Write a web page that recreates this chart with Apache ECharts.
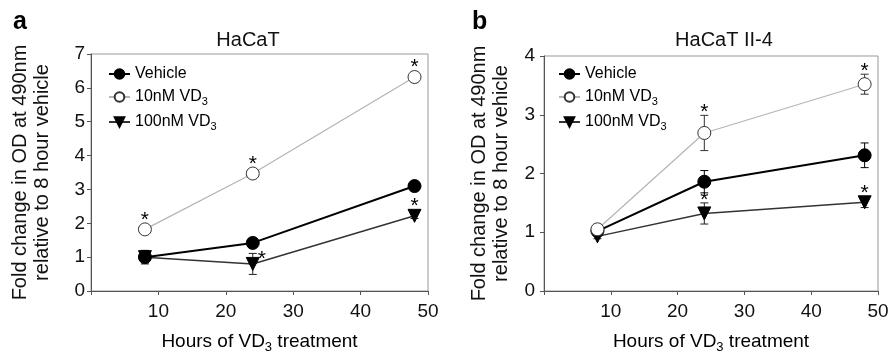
<!DOCTYPE html>
<html>
<head>
<meta charset="utf-8">
<script src="https://cdn.jsdelivr.net/npm/echarts@6/dist/echarts.min.js"></script>
<style>
html,body{margin:0;padding:0;background:#fff;}
#chart{width:888px;height:356px;}
</style>
</head>
<body>
<div id="chart"></div>
<script>
// ---------- data ----------
const hours = [8, 24, 48];
const seriesNames = ['Vehicle', '10nM VD3', '100nM VD3'];
const xTickMax = 50;
const aYMax = 7;
const bYMax = 4;

// Panel a: HaCaT
const aVehicle = [1.00, 1.42, 3.10];
const aVehicleErr = [0.20, 0.07, 0.07];
const a10nM = [1.82, 3.47, 6.32];
const a10nMErr = [0.08, 0.08, 0.08];
const a100nM = [1.00, 0.80, 2.22];
const a100nMErr = [0.12, 0.31, 0.08];
const a10nMSig = [1, 1, 1];
const a100nMSig = [0, 1, 1];

// Panel b: HaCaT II-4
const bVehicle = [1.02, 1.86, 2.31];
const bVehicleErr = [0.04, 0.19, 0.21];
const b10nM = [1.05, 2.69, 3.52];
const b10nMErr = [0.04, 0.30, 0.17];
const b100nM = [0.93, 1.32, 1.51];
const b100nMErr = [0.04, 0.18, 0.09];
const b10nMSig = [0, 1, 1];
const b100nMSig = [0, 1, 1];

// ---------- styles ----------
const FONT = 'Liberation Sans, Arial, sans-serif';
const styles = {
  'Vehicle':   {line: '#000', width: 2.0, symbol: 'circle', fill: '#000', border: '#000', rotate: 0, err: '#000'},
  '10nM VD3':  {line: '#b4b4b4', width: 1.2, symbol: 'circle', fill: '#fff', border: '#333', rotate: 0, err: '#333'},
  '100nM VD3': {line: '#333', width: 1.5, symbol: 'triangle', fill: '#000', border: '#000', rotate: 180, err: '#222'}
};
// manual nudge of one asterisk (style only)
const starNudge = {'a|100nM VD3|24': [9, 9]};

function pts(vals) { return hours.map((h, i) => [h, vals[i]]); }
function errPts(vals, errs) { return hours.map((h, i) => [h, vals[i], errs[i]]); }
function starPts(vals, errs, sig) {
  const out = [];
  hours.forEach((h, i) => { if (sig[i]) out.push([h, vals[i], errs[i]]); });
  return out;
}

function lineSeries(name, vals, gi) {
  const s = styles[name];
  return {
    type: 'line', name: name, xAxisIndex: gi, yAxisIndex: gi,
    data: pts(vals), symbol: s.symbol, symbolSize: 13, symbolRotate: s.rotate,
    showSymbol: true, z: 3,
    lineStyle: {color: s.line, width: s.width},
    itemStyle: {color: s.fill, borderColor: s.border, borderWidth: 1},
    emphasis: {disabled: true}, animation: false
  };
}
function errSeries(name, vals, errs, gi) {
  const s = styles[name];
  return {
    type: 'custom', name: name + ' error', xAxisIndex: gi, yAxisIndex: gi, z: 2,
    data: errPts(vals, errs), encode: {x: 0, y: 1}, animation: false, silent: true,
    renderItem: function (params, api) {
      const x = api.value(0), y = api.value(1), e = api.value(2);
      const t = api.coord([x, y + e]), b = api.coord([x, y - e]);
      const w = 4, st = {stroke: s.err, lineWidth: 1};
      return {type: 'group', children: [
        {type: 'line', shape: {x1: t[0], y1: t[1], x2: b[0], y2: b[1]}, style: st},
        {type: 'line', shape: {x1: t[0] - w, y1: t[1], x2: t[0] + w, y2: t[1]}, style: st},
        {type: 'line', shape: {x1: b[0] - w, y1: b[1], x2: b[0] + w, y2: b[1]}, style: st}
      ]};
    }
  };
}
function starSeries(panel, name, vals, errs, sig, gi) {
  return {
    type: 'custom', name: name + ' sig', xAxisIndex: gi, yAxisIndex: gi, z: 4,
    data: starPts(vals, errs, sig), encode: {x: 0, y: 1}, animation: false, silent: true,
    renderItem: function (params, api) {
      const x = api.value(0), y = api.value(1), e = api.value(2);
      const p = api.coord([x, y]), t = api.coord([x, y + e]);
      let sx = p[0], sy = Math.min(t[1], p[1] - 6.5) - 3;
      const n = starNudge[panel + '|' + name + '|' + x];
      if (n) { sx += n[0]; sy += n[1]; }
      return {type: 'text', x: sx, y: sy, style: {text: '*', font: '21px ' + FONT, fill: '#000', align: 'center', verticalAlign: 'middle'}};
    }
  };
}

const richText = {
  n: {fontSize: 16, fontFamily: FONT, color: '#000', lineHeight: 18},
  s: {fontSize: 11, fontFamily: FONT, color: '#000', lineHeight: 11, padding: [9, 0, 0, 0]}
};
function subFmt(name) {
  return name.replace(/VD3/, 'VD}{s|3}{n|').replace(/^/, '{n|') + '}';
}
const axisRich = {
  n: {fontSize: 19, fontFamily: FONT, color: '#000', lineHeight: 22},
  s: {fontSize: 13, fontFamily: FONT, color: '#000', lineHeight: 13, padding: [11, 0, 0, 0]}
};

function xAxis(gi) {
  return {
    type: 'value', gridIndex: gi, min: 0, max: xTickMax, interval: 10,
    name: '{n|Hours of VD}{s|3}{n| treatment}', nameLocation: 'middle', nameGap: 40,
    nameTextStyle: {rich: axisRich},
    axisLine: {show: true, lineStyle: {color: '#555', width: 1}},
    axisTick: {show: true, length: 4, lineStyle: {color: '#555'}},
    axisLabel: {fontSize: 19, fontFamily: FONT, color: '#111', margin: 11,
      formatter: v => (v === 0 ? '' : String(v))},
    splitLine: {show: false}
  };
}
function yAxis(gi, max, gap, lm) {
  return {
    type: 'value', gridIndex: gi, min: 0, max: max, interval: 1,
    name: 'Fold change in OD at 490nm\nrelative to 8 hour vehicle',
    nameLocation: 'middle', nameGap: gap, nameRotate: 90,
    nameTextStyle: {fontSize: 20, fontFamily: FONT, color: '#111', lineHeight: 22},
    axisLine: {show: true, lineStyle: {color: '#555', width: 1}},
    axisTick: {show: true, length: 4, lineStyle: {color: '#555'}},
    axisLabel: {fontSize: 19, fontFamily: FONT, color: '#111', margin: lm},
    splitLine: {show: false}
  };
}
function legend(left) {
  return {
    left: left, top: 61, orient: 'vertical', itemWidth: 21, itemHeight: 12, itemGap: 5,
    data: seriesNames, formatter: subFmt, selectedMode: false,
    textStyle: {rich: richText}
  };
}

const option = {
  backgroundColor: '#fff',
  animation: false,
  title: [
    {text: 'a', left: 8, top: 5, textStyle: {fontSize: 25, fontWeight: 'bold', fontFamily: FONT, color: '#000'}},
    {text: 'b', left: 467, top: 5, textStyle: {fontSize: 25, fontWeight: 'bold', fontFamily: FONT, color: '#000'}},
    {text: 'HaCaT', left: 243, top: 25, textAlign: 'center', textStyle: {fontSize: 20, fontWeight: 'normal', fontFamily: FONT, color: '#111'}},
    {text: 'HaCaT II-4', left: 719, top: 25, textAlign: 'center', textStyle: {fontSize: 20, fontWeight: 'normal', fontFamily: FONT, color: '#111'}}
  ],
  grid: [
    {left: 91, right: 460, top: 54, bottom: 65, show: true, borderColor: '#999', borderWidth: 1, outerBoundsMode: 'none', containLabel: false},
    {left: 544, right: 10, top: 56, bottom: 65, show: true, borderColor: '#999', borderWidth: 1, outerBoundsMode: 'none', containLabel: false}
  ],
  legend: [legend(103), legend(553)],
  xAxis: [xAxis(0), xAxis(1)],
  yAxis: [yAxis(0, aYMax, 38, 6), yAxis(1, bYMax, 32, 9)],
  series: [
    lineSeries('100nM VD3', a100nM, 0),
    lineSeries('Vehicle', aVehicle, 0),
    lineSeries('10nM VD3', a10nM, 0),
    errSeries('100nM VD3', a100nM, a100nMErr, 0),
    errSeries('Vehicle', aVehicle, aVehicleErr, 0),
    errSeries('10nM VD3', a10nM, a10nMErr, 0),
    starSeries('a', '10nM VD3', a10nM, a10nMErr, a10nMSig, 0),
    starSeries('a', '100nM VD3', a100nM, a100nMErr, a100nMSig, 0),

    lineSeries('100nM VD3', b100nM, 1),
    lineSeries('Vehicle', bVehicle, 1),
    lineSeries('10nM VD3', b10nM, 1),
    errSeries('100nM VD3', b100nM, b100nMErr, 1),
    errSeries('Vehicle', bVehicle, bVehicleErr, 1),
    errSeries('10nM VD3', b10nM, b10nMErr, 1),
    starSeries('b', '10nM VD3', b10nM, b10nMErr, b10nMSig, 1),
    starSeries('b', '100nM VD3', b100nM, b100nMErr, b100nMSig, 1)
  ]
};

const chart = echarts.init(document.getElementById('chart'), null, {renderer: 'canvas'});
chart.setOption(option);
</script>
</body>
</html>
